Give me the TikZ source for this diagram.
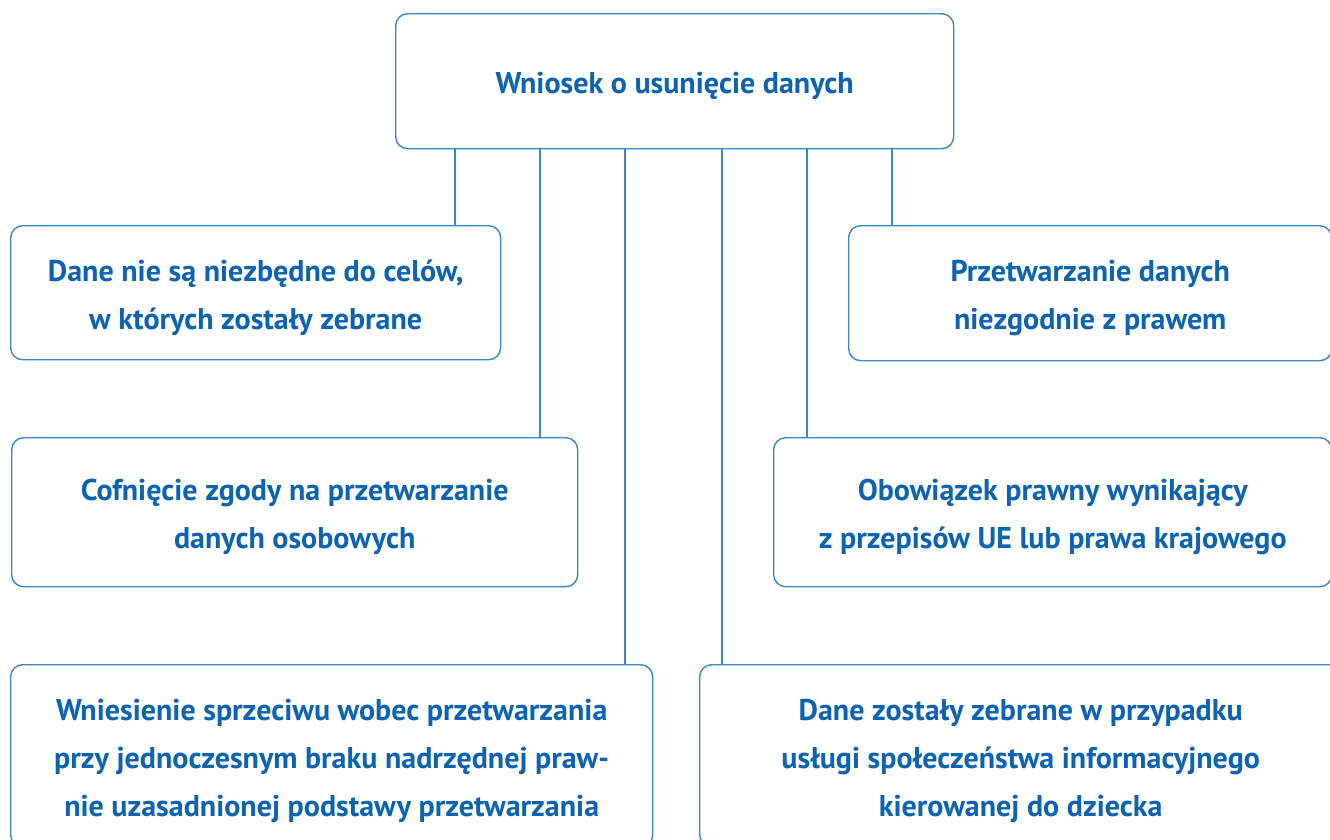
\documentclass[tikz,border=0pt]{standalone}
\usepackage{fontspec}
\setmainfont{PT Sans}
\definecolor{txtblue}{HTML}{0B63B1}
\definecolor{lineblue}{HTML}{3A86C8}
\newcommand\tstrut{\rule{0pt}{31pt}}
\tikzset{
  box/.style={draw=lineblue, line width=1.4pt, rounded corners=12pt, fill=white,
    anchor=north west, align=center, text=txtblue,
    font=\bfseries\fontsize{30}{48}\selectfont, inner sep=0pt},
  conn/.style={draw=lineblue, line width=1.4pt}
}
\begin{document}
\begin{tikzpicture}[x=1pt,y=-1pt]
\clip (0,0) rectangle (1330,839);
\fill[white] (0,0) rectangle (1330,839);
\node[box, minimum width=558pt, minimum height=135pt] (top) at (395,13) {\tstrut Wniosek o usunięcie danych};
\node[box, minimum width=490pt, minimum height=134pt] (b1) at (10,225) {\tstrut Dane nie są niezbędne do celów,\\w których zostały zebrane};
\node[box, minimum width=483pt, minimum height=135pt] (b2) at (848,225) {\tstrut Przetwarzanie danych\\niezgodnie z prawem};
\node[box, minimum width=566pt, minimum height=149pt] (b3) at (11,437) {\tstrut Cofnięcie zgody na przetwarzanie\\danych osobowych};
\node[box, minimum width=558pt, minimum height=149pt] (b4) at (773,437) {\tstrut Obowiązek prawny wynikający\\z przepisów UE lub prawa krajowego};
\node[box, minimum width=642pt, minimum height=182pt] (b5) at (10,664) {\tstrut Wniesienie sprzeciwu wobec przetwarzania\\przy jednoczesnym braku nadrzędnej praw-\\nie uzasadnionej podstawy przetwarzania};
\node[box, minimum width=642pt, minimum height=182pt] (b6) at (699,664) {\tstrut Dane zostały zebrane w przypadku\\usługi społeczeństwa informacyjnego\\kierowanej do dziecka};
\draw[conn] ([xshift=60pt]top.south west) coordinate (c1) -- (c1 |- b1.north);
\draw[conn] ([xshift=145pt]top.south west) coordinate (c3) -- (c3 |- b3.north);
\draw[conn] ([xshift=230pt]top.south west) coordinate (c5) -- (c5 |- b5.north);
\draw[conn] ([xshift=327pt]top.south west) coordinate (c6) -- (c6 |- b6.north);
\draw[conn] ([xshift=412pt]top.south west) coordinate (c4) -- (c4 |- b4.north);
\draw[conn] ([xshift=497pt]top.south west) coordinate (c2) -- (c2 |- b2.north);
\end{tikzpicture}
\end{document}
